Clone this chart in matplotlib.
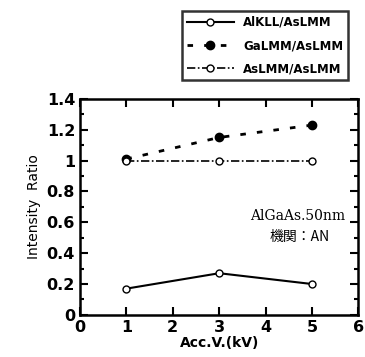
import matplotlib.pyplot as plt
from matplotlib.ticker import MultipleLocator

plt.rcParams['font.family'] = ['DejaVu Sans']

# data
acc_v = [1, 3, 5]
alkll = [0.17, 0.27, 0.20]
galmm = [1.01, 1.15, 1.23]
aslmm = [1.00, 1.00, 1.00]

fig = plt.figure(figsize=(3.65, 3.57), dpi=100)
ax = fig.add_axes([0.219, 0.118, 0.763, 0.605])

ax.plot(acc_v, alkll, '-', color='black', lw=1.5, marker='o', ms=5,
        mfc='white', mec='black', mew=1, label='AlKLL/AsLMM')
ax.plot(acc_v, galmm, linestyle=(0, (2, 4)), color='black', lw=2, marker='o', ms=6,
        mfc='black', mec='black', label='GaLMM/AsLMM')
ax.plot(acc_v, aslmm, linestyle=(0, (5, 1.5, 1, 1.5)), color='black', lw=1.2, marker='o', ms=5,
        mfc='white', mec='black', mew=1, label='AsLMM/AsLMM')

ax.set_xlim(0, 6)
ax.set_ylim(0, 1.4)
ax.xaxis.set_major_locator(MultipleLocator(1))
ax.yaxis.set_minor_locator(MultipleLocator(0.1))
ax.set_yticks([0, 0.2, 0.4, 0.6, 0.8, 1.0, 1.2, 1.4])
ax.set_yticklabels(['0', '0.2', '0.4', '0.6', '0.8', '1', '1.2', '1.4'])
ax.tick_params(which='both', direction='in', top=True, right=True, width=1.5)
ax.tick_params(which='major', length=6, labelsize=11.5)
ax.tick_params(which='minor', length=3)
for lab in ax.get_xticklabels() + ax.get_yticklabels():
    lab.set_fontweight('bold')
for s in ax.spines.values():
    s.set_linewidth(1.8)

ax.set_xlabel('Acc.V.(kV)', fontsize=10, fontweight='bold', labelpad=1)
ax.set_ylabel('Intensity  Ratio', fontsize=10, labelpad=4)

ax.text(0.78, 0.46, 'AlGaAs.50nm', transform=ax.transAxes, ha='center', va='center',
        fontsize=10, family=['DejaVu Serif'])
ax.text(0.79, 0.36, '機関：AN', transform=ax.transAxes, ha='center', va='center',
        fontsize=10, family=['Noto Sans CJK JP', 'DejaVu Sans'])

leg = fig.legend(loc='upper left', bbox_to_anchor=(0.482, 0.985),
                 prop={'weight': 'bold', 'size': 8.5}, handlelength=4,
                 frameon=True, fancybox=False, edgecolor='black',
                 borderpad=0.4, labelspacing=0.85)
leg.get_frame().set_linewidth(1.8)

fig.savefig('out.png', dpi=100)
